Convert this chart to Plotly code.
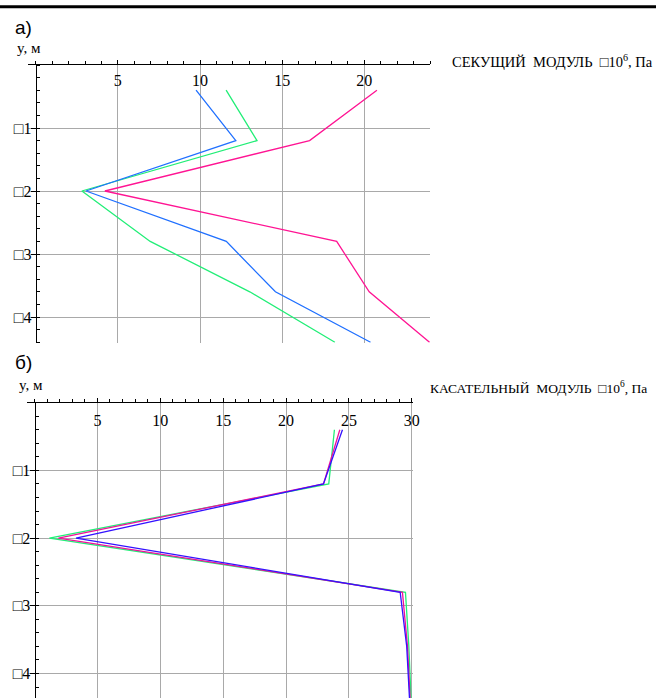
import plotly.graph_objects as go

# ---------------- data ----------------
depth = [-0.4, -1.2, -2.0, -2.8, -3.6, -4.4]           # y, м

# а) секущий модуль, ×10^6 Па
sec_blue = [9.76, 12.18, 3.06, 11.6, 14.59, 20.38]
sec_green = [11.59, 13.47, 2.81, 6.97, 13.03, 18.21]
sec_pink = [20.77, 16.67, 4.21, 18.32, 20.3, 23.97]

# б) касательный модуль, ×10^6 Па
tan_green = [23.85, 23.4, 1.18, 29.5, 29.77, 29.95]
tan_pink = [24.28, 22.98, 1.9, 29.26, 29.66, 29.88]
tan_blue = [24.49, 22.98, 3.3, 29.08, 29.6, 29.83]

x_ticks_a = [5, 10, 15, 20]
x_ticks_b = [5, 10, 15, 20, 25, 30]
y_ticks = [-1, -2, -3, -4]
y_tick_text = ["\u25a11", "\u25a12", "\u25a13", "\u25a14"]

W, H = 656, 698
SERIF = "Liberation Serif, Times New Roman, serif"
SANS = "Liberation Sans, Arial, sans-serif"
GRID = "#a9a9a9"

fig = go.Figure()

def add(x, y, color, xa, ya):
    fig.add_trace(go.Scatter(x=x, y=y, mode="lines", line=dict(color=color, width=1.3),
                             xaxis=xa, yaxis=ya, showlegend=False, hoverinfo="skip"))

add(sec_green, depth, "#22ee77", "x", "y")
add(sec_blue, depth, "#2070ff", "x", "y")
add(sec_pink, depth, "#ff1493", "x", "y")

add(tan_green, depth, "#22ee77", "x2", "y2")
add(tan_pink, depth, "#ee1199", "x2", "y2")
add(tan_blue, depth, "#3311ff", "x2", "y2")

def xaxis(domain, rng, tickvals, anchor, standoff):
    return dict(domain=domain, range=rng, side="top", anchor=anchor, automargin=False,
                showline=True, linecolor="black", linewidth=1,
                tickmode="array", tickvals=tickvals,
                ticks="outside", ticklen=4, tickcolor="black",
                ticklabelposition="inside", ticklabeloverflow="allow",
                ticklabelstandoff=standoff,
                tickfont=dict(family=SERIF, size=16, color="black"),
                showgrid=True, gridcolor=GRID, gridwidth=1, zeroline=False,
                minor=dict(tickmode="linear", tick0=0, dtick=1, ticks="outside",
                           ticklen=3, tickcolor="black", showgrid=False),
                fixedrange=True)

def yaxis(domain, rng, pos):
    return dict(domain=domain, range=rng, anchor="free", position=pos, automargin=False,
                showline=True, linecolor="black", linewidth=1,
                tickmode="array", tickvals=y_ticks, ticktext=y_tick_text,
                ticks="outside", ticklen=5, tickcolor="black",
                ticklabelstandoff=-4,
                tickfont=dict(family=SERIF, size=16, color="black"),
                showgrid=True, gridcolor=GRID, gridwidth=1, zeroline=False,
                minor=dict(tickmode="linear", tick0=0, dtick=0.2, ticks="inside",
                           ticklen=3, tickcolor="black", showgrid=False),
                fixedrange=True)

fig.update_layout(
    width=W, height=H, margin=dict(l=0, r=0, t=0, b=0, autoexpand=False),
    paper_bgcolor="white", plot_bgcolor="white",
    xaxis=xaxis([27.5 / W, 430 / W], [-0.5, 24], x_ticks_a, "y", 10),
    yaxis=yaxis([1 - 342.7 / H, 1 - 65 / H], [-4.408, 0], 35.7 / W),
    xaxis2=xaxis([27 / W, 413 / W], [-0.6, 30.1], x_ticks_b, "y2", 12),
    yaxis2=yaxis([0, 1 - 402.7 / H], [-(H - 402.7) / 67.7, 0], 34.5 / W),
)

# thick rule at the top
fig.add_shape(type="line", xref="paper", yref="paper", x0=0, x1=1,
              y0=1 - 6.7 / H, y1=1 - 6.7 / H, line=dict(color="black", width=3))

ann = [
    dict(text="а)", x=13 / W, y=1 - 27 / H, xanchor="left", font=dict(family=SANS, size=19)),
    dict(text="y, м", x=15 / W, y=1 - 47.5 / H, xanchor="left", font=dict(family=SERIF, size=15)),
    dict(text="СЕКУЩИЙ&nbsp; МОДУЛЬ&nbsp; \u25a110<sup>6</sup>, Па", x=450 / W, y=1 - 61 / H,
         xanchor="left", font=dict(family=SERIF, size=14.5)),
    dict(text="б)", x=13 / W, y=1 - 362 / H, xanchor="left", font=dict(family=SANS, size=19)),
    dict(text="y, м", x=17 / W, y=1 - 385 / H, xanchor="left", font=dict(family=SERIF, size=15)),
    dict(text="КАСАТЕЛЬНЫЙ&nbsp; МОДУЛЬ&nbsp; \u25a110<sup>6</sup>, Па", x=428 / W, y=1 - 387 / H,
         xanchor="left", font=dict(family=SERIF, size=13.5)),
]
for a in ann:
    fig.add_annotation(xref="paper", yref="paper", yanchor="middle", showarrow=False,
                       font_color="black", **a)

fig.write_html("out.html")
